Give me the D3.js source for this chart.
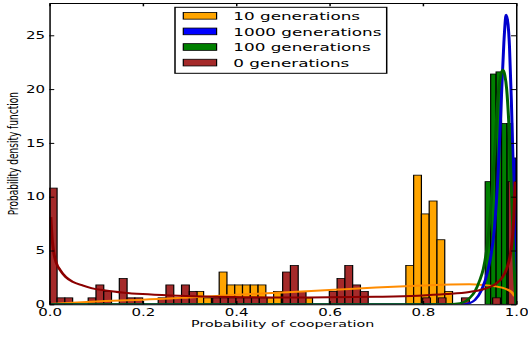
<!DOCTYPE html>
<html lang="en">
<head>
<meta charset="utf-8">
<title>Probability of cooperation</title>
<script src="https://d3js.org/d3.v7.min.js"></script>
<style>
  body { margin: 0; background: #fff; }
  svg { display: block; font-family: 'DejaVu Sans', sans-serif; }
</style>
</head>
<body>
<script>
// histogram bins: left edge of first bin, bin width, density per bin
const gen0Start = 0, gen0Width = 1 / 60;
const gen0Heights = [10.8, 0.6, 0.6, 0, 0, 0.6, 1.8, 1.2, 0, 2.4,
                     0.6, 0.6, 0, 0, 0.6, 1.8, 0.6, 1.8, 1.2, 0,
                     0, 0.6, 0.6, 0.6, 0.6, 0.6, 0.6, 0.6, 0, 0,
                     3.0, 3.6, 1.2, 0, 0, 0, 1.2, 2.4, 3.6, 1.8,
                     1.2, 0, 0, 0, 0, 0, 0, 0, 0.6, 0,
                     0.6, 0, 0, 0.6, 0, 0, 0, 0.6, 0, 11.4];

const gen10Start = 0.314, gen10Width = 1 / 60;
const gen10Heights = [1.2, 0.6, 0, 3.0, 1.8, 1.8, 1.8, 1.8, 1.8, 0.6,
                      1.2, 1.2, 1.2, 0.6, 0.6, 0, 0, 0, 0, 0,
                      0, 0, 0, 0, 0, 0, 0, 3.6, 12.0, 8.4,
                      9.6, 6.0, 1.2];

const gen100Start = 0.934, gen100Width = 0.0117;
const gen100Heights = [11.4, 21.4, 21.6, 16.8, 16.8];

const gen1000Start = 0.955, gen1000Width = 0.009;
const gen1000Heights = [15, 16, 16, 16, 13.6];

// fitted density curves: [p, density]
const fit0 = [[0.0033, 8.1], [0.0067, 5.8], [0.01, 4.7], [0.015, 3.85], [0.023, 3.2],
              [0.035, 2.55], [0.05, 2.1], [0.07, 1.78], [0.09, 1.5], [0.12, 1.28],
              [0.16, 1.08], [0.2, 0.95], [0.26, 0.82], [0.33, 0.72], [0.42, 0.66],
              [0.5, 0.64], [0.6, 0.65], [0.7, 0.7], [0.79, 0.8], [0.85, 0.95],
              [0.9, 1.15], [0.93, 1.4], [0.955, 1.85], [0.97, 2.45], [0.98, 3.3],
              [0.987, 4.4], [0.992, 6.0], [0.995, 7.8], [0.9967, 9.6], [0.998, 11.4]];
const fit10 = [[0.0033, 0.02], [0.02, 0.08], [0.05, 0.15], [0.1, 0.26], [0.2, 0.42],
               [0.3, 0.64], [0.4, 0.88], [0.5, 1.1], [0.6, 1.33], [0.7, 1.56],
               [0.8, 1.75], [0.86, 1.84], [0.9, 1.86], [0.93, 1.8], [0.955, 1.68],
               [0.97, 1.55], [0.98, 1.4], [0.99, 1.15], [0.995, 0.9], [0.9967, 0.75]];
const fit100 = [[0, 0], [0.85, 0], [0.88, 0.1], [0.9, 0.55], [0.912, 1.2], [0.922, 2.2],
                [0.93, 3.3], [0.937, 5.0], [0.947, 9.5], [0.954, 14], [0.961, 19],
                [0.967, 21.2], [0.972, 21.8], [0.976, 21.3], [0.98, 20], [0.985, 16.5],
                [0.99, 11], [0.994, 6], [0.997, 2.5], [1.0, 0]];
const fit1000 = [[0, 0], [0.89, 0], [0.9, 0.1], [0.912, 0.4], [0.926, 1.3], [0.94, 3.2],
                 [0.954, 7.2], [0.962, 12.5], [0.969, 19.5], [0.974, 24.3], [0.979, 26.9],
                 [0.983, 26.0], [0.986, 24.0], [0.99, 19], [0.9936, 13.4], [0.997, 6], [1.0, 0]];

const legendLabels = ["10 generations", "1000 generations", "100 generations", "0 generations"];
const xTicks = [0, 0.2, 0.4, 0.6, 0.8, 1.0];
const yTicks = [0, 5, 10, 15, 20, 25];

// the picture is stretched sideways, so draw in narrow units and scale x
const SX = 1.5;
const plot = {left: 49.3 / SX, right: 516 / SX, top: 3, bottom: 304.3};

const svg = d3.select("body").append("svg")
    .attr("width", 528)
    .attr("height", 337);
const g = svg.append("g").attr("transform", `scale(${SX},1)`);

const x = d3.scaleLinear().domain([0, 1]).range([plot.left, plot.right]);
const y = d3.scaleLinear().domain([0, 28]).range([plot.bottom, plot.top]);

g.append("clipPath").attr("id", "clip")
  .append("rect")
    .attr("x", plot.left).attr("y", plot.top)
    .attr("width", plot.right - plot.left).attr("height", plot.bottom - plot.top);

const inner = g.append("g").attr("clip-path", "url(#clip)");

function drawHist(start, width, heights, color) {
  const bins = heights.map((h, i) => ({x0: start + i * width, x1: start + (i + 1) * width, h}))
                      .filter(d => d.h > 0);
  inner.append("g").selectAll("rect")
    .data(bins)
    .join("rect")
      .attr("x", d => x(d.x0))
      .attr("width", d => x(d.x1) - x(d.x0))
      .attr("y", d => y(d.h))
      .attr("height", d => y(0) - y(d.h))
      .attr("fill", color)
      .attr("stroke", "#000")
      .attr("stroke-width", 0.8);
}

drawHist(gen10Start, gen10Width, gen10Heights, "#FFA500");
drawHist(gen1000Start, gen1000Width, gen1000Heights, "#0000FF");
drawHist(gen100Start, gen100Width, gen100Heights, "#008000");
drawHist(gen0Start, gen0Width, gen0Heights, "#A52A2A");

const line = d3.line()
    .x(d => x(d[0]))
    .y(d => y(d[1]))
    .curve(d3.curveMonotoneX);

[[fit10, "#FF8C00"], [fit1000, "#0000CD"], [fit100, "#006400"], [fit0, "#8B0000"]]
  .forEach(([pts, color]) => {
    inner.append("path")
      .attr("d", line(pts))
      .attr("fill", "none")
      .attr("stroke", color)
      .attr("stroke-width", 2)
      .attr("stroke-linejoin", "round");
  });

// axes, ticks pointing inwards on all four sides
const tickLen = 3.3;
const axB = g.append("g").attr("transform", `translate(0,${plot.bottom})`)
  .call(d3.axisBottom(x).tickValues(xTicks).tickFormat(d3.format(".1f"))
        .tickSizeInner(-tickLen).tickSizeOuter(0).tickPadding(4.3));
const axL = g.append("g").attr("transform", `translate(${plot.left},0)`)
  .call(d3.axisLeft(y).tickValues(yTicks)
        .tickSizeInner(-tickLen).tickSizeOuter(0).tickPadding(2.9));
g.append("g").attr("transform", `translate(0,${plot.top})`)
  .call(d3.axisTop(x).tickValues(xTicks).tickFormat("")
        .tickSizeInner(-tickLen).tickSizeOuter(0));
g.append("g").attr("transform", `translate(${plot.right},0)`)
  .call(d3.axisRight(y).tickValues(yTicks).tickFormat("")
        .tickSizeInner(-tickLen).tickSizeOuter(0));

g.selectAll(".tick text")
  .attr("font-family", "DejaVu Sans")
  .attr("font-size", 10)
  .attr("fill", "#000");
g.selectAll(".domain, .tick line").attr("stroke", "#000");

g.append("text")
  .attr("x", (plot.left + plot.right) / 2)
  .attr("y", 327.3)
  .attr("text-anchor", "middle")
  .attr("font-size", 9.5)
  .text("Probability of cooperation");

g.append("text")
  .attr("transform", `translate(12.3,${(plot.top + plot.bottom) / 2}) rotate(-90)`)
  .attr("text-anchor", "middle")
  .attr("font-size", 9)
  .text("Probability density function");

// legend
const legendColors = ["#FFA500", "#0000FF", "#008000", "#A52A2A"];
const legend = g.append("g");
legend.append("rect")
  .attr("x", 175 / SX).attr("y", 7.3)
  .attr("width", (386.7 - 175) / SX).attr("height", 66)
  .attr("fill", "#fff").attr("stroke", "#000").attr("stroke-width", 1);

const rows = legend.selectAll("g.row")
  .data(legendLabels)
  .join("g")
    .attr("class", "row")
    .attr("transform", (d, i) => `translate(0,${15.8 + i * 15.6})`);
rows.append("rect")
  .attr("x", 183.3 / SX).attr("y", -3.35)
  .attr("width", 33.3 / SX).attr("height", 6.7)
  .attr("fill", (d, i) => legendColors[i])
  .attr("stroke", "#000").attr("stroke-width", 0.8);
rows.append("text")
  .attr("x", 233.3 / SX).attr("y", 4.2)
  .attr("font-size", 11.2)
  .text(d => d);
</script>
</body>
</html>
